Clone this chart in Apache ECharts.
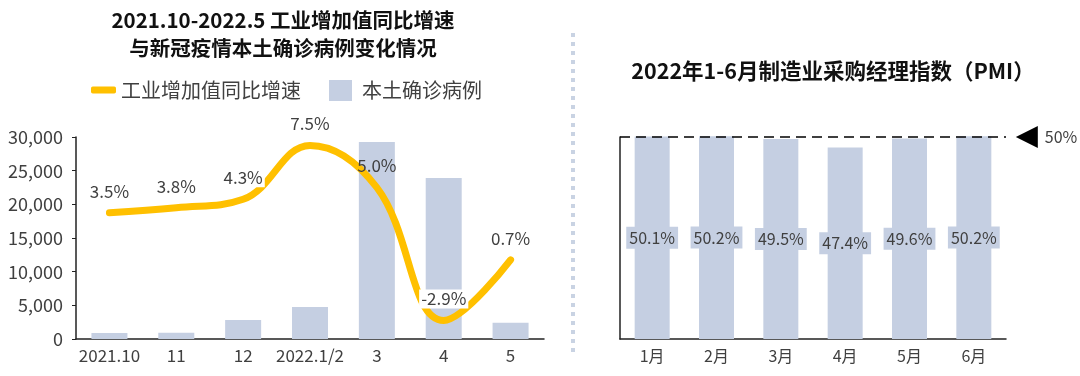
<!DOCTYPE html>
<html>
<head>
<meta charset="utf-8">
<script src="https://cdn.jsdelivr.net/npm/echarts@6/dist/echarts.min.js"></script>
<style>
html, body { margin: 0; padding: 0; background: #fff; }
#main { width: 1080px; height: 376px; }
</style>
</head>
<body>
<div id="main"></div>
<script>
// 左图：工业增加值 + 本土确诊
var months = ['2021.10', '11', '12', '2022.1/2', '3', '4', '5'];
var cases = [900, 920, 2820, 4750, 29250, 23900, 2400];
var growth = [3.5, 3.8, 4.3, 7.5, 5.0, -2.9, 0.7];
var caseTicks = [0, 5000, 10000, 15000, 20000, 25000, 30000];

// 右图：PMI
var pmiMonths = ['1月', '2月', '3月', '4月', '5月', '6月'];
var pmi = [50.1, 50.2, 49.5, 47.4, 49.6, 50.2];
var pmiLine = 50;

var barColor = '#C5CFE2';
var txt = '#404040';
var font = 'Noto Sans CJK SC';

var myChart = echarts.init(document.getElementById('main'));

var growthData = growth.map(function (v, i) {
	var d = { value: v };
	if (i === 4) {
		d.label = { backgroundColor: 'transparent' }; // 5.0% 压在柱子上
	}
	return d;
});

var option = {
	animation: false,
	textStyle: { fontFamily: font },
	title: [{
		text: '2021.10-2022.5 工业增加值同比增速\n与新冠疫情本土确诊病例变化情况',
		left: 278,
		top: 1,
		textAlign: 'center',
		textStyle: { fontSize: 20.5, fontWeight: 'bold', color: '#111', lineHeight: 28, fontFamily: font }
	}, {
		text: '2022年1-6月制造业采购经理指数（PMI）',
		left: 828,
		top: 55,
		textAlign: 'center',
		textStyle: { fontSize: 21.5, fontWeight: 'bold', color: '#111', fontFamily: font }
	}],
	legend: [{
		data: ['工业增加值同比增速'],
		left: 86,
		top: 75,
		icon: 'roundRect',
		itemWidth: 25,
		itemHeight: 7,
		textStyle: { fontSize: 20, color: txt, fontFamily: font }
	}, {
		data: ['本土确诊病例'],
		left: 324,
		top: 75,
		icon: 'rect',
		itemWidth: 23,
		itemHeight: 21,
		textStyle: { fontSize: 20, color: txt, fontFamily: font, padding: [0, 0, 0, 5] }
	}],
	graphic: [{
		type: 'line',
		shape: { x1: 573, y1: 33, x2: 573, y2: 352 },
		style: { stroke: '#C9D3E3', lineWidth: 4, lineDash: [4, 5] }
	}],
	grid: [
		{ left: 76, right: 536, top: 137, bottom: 37 },
		{ left: 620, right: 74, top: 137, bottom: 37 }
	],
	xAxis: [{
		type: 'category',
		gridIndex: 0,
		data: months,
		axisLine: { lineStyle: { color: '#222', width: 1.5 } },
		axisTick: { show: false },
		axisLabel: { fontSize: 17, color: txt, margin: 8, interval: 0 }
	}, {
		type: 'category',
		gridIndex: 1,
		data: pmiMonths,
		axisLine: { lineStyle: { color: '#222', width: 1.5 } },
		axisTick: { show: false },
		axisLabel: { fontSize: 16, color: txt, margin: 9, interval: 0 }
	}],
	yAxis: [{
		type: 'value',
		gridIndex: 0,
		min: caseTicks[0],
		max: caseTicks[caseTicks.length - 1],
		interval: caseTicks[1] - caseTicks[0],
		axisLine: { show: true, lineStyle: { color: '#222', width: 1.5 } },
		axisTick: { show: true, length: 4, lineStyle: { color: '#222' } },
		splitLine: { show: false },
		axisLabel: {
			fontSize: 18, color: txt, margin: 13,
			formatter: function (v) { return v.toLocaleString('en-US'); }
		}
	}, {
		type: 'value',
		gridIndex: 0,
		min: -4,
		max: 8,
		show: false,
		splitLine: { show: false }
	}, {
		type: 'value',
		gridIndex: 1,
		min: 0,
		max: 50,
		axisLine: { show: true, lineStyle: { color: '#222', width: 1.5 } },
		axisTick: { show: false },
		axisLabel: { show: false },
		splitLine: { show: false }
	}],
	series: [{
		name: '本土确诊病例',
		type: 'bar',
		xAxisIndex: 0,
		yAxisIndex: 0,
		barWidth: 36,
		itemStyle: { color: barColor },
		data: cases
	}, {
		name: '工业增加值同比增速',
		type: 'line',
		xAxisIndex: 0,
		yAxisIndex: 1,
		smooth: 0.4,
		symbol: 'circle',
		symbolSize: 0,
		showSymbol: true,
		lineStyle: { color: '#FFC000', width: 7, cap: 'round' },
		itemStyle: { color: '#FFC000' },
		label: {
			show: true,
			position: 'top',
			distance: 12,
			fontSize: 17,
			color: txt,
			backgroundColor: '#fff',
			padding: [1, 2],
			formatter: function (p) { return p.value.toFixed(1) + '%'; }
		},
		z: 3,
		data: growthData
	}, {
		name: 'PMI',
		type: 'bar',
		xAxisIndex: 1,
		yAxisIndex: 2,
		barWidth: 35,
		clip: false,
		itemStyle: { color: barColor },
		label: {
			show: true,
			position: 'inside',
			fontSize: 16,
			color: txt,
			backgroundColor: barColor,
			padding: [3, 3],
			formatter: '{c}%'
		},
		markLine: {
			silent: true,
			symbol: 'none',
			label: { show: false },
			lineStyle: { color: '#000', type: [10, 6], width: 1.5 },
			data: [{ yAxis: pmiLine }]
		},
		markPoint: {
			silent: true,
			symbol: 'triangle',
			symbolSize: [22, 22],
			symbolRotate: 90,
			symbolOffset: [53, 0],
			itemStyle: { color: '#000' },
			label: {
				show: true,
				position: 'right',
				distance: 7,
				fontSize: 16,
				color: txt,
				formatter: pmiLine + '%'
			},
			data: [{ coord: [pmiMonths[pmiMonths.length - 1], pmiLine] }]
		},
		data: pmi
	}]
};
myChart.setOption(option);
</script>
</body>
</html>
